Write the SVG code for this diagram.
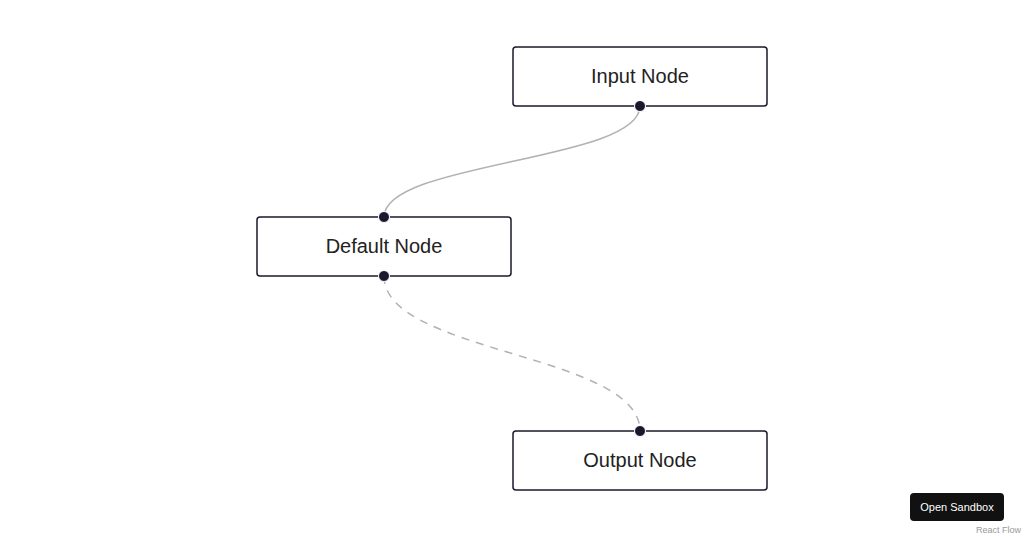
<svg xmlns="http://www.w3.org/2000/svg" width="1024" height="537" viewBox="0 0 1024 537">
<style>
.node rect{fill:#fff;stroke:#1a192b;stroke-width:1.5}
.node text{font-family:"Liberation Sans",Arial,sans-serif;font-size:20px;fill:#222;text-anchor:middle}
.handle{fill:#1a192b;stroke:#fff;stroke-width:1}
.edge{fill:none;stroke:#b1b1b7;stroke-width:1.5}
.dash{stroke-dasharray:8 7}
</style>
<rect width="1024" height="537" fill="#fff"/>
<g id="connectors">
<path class="edge" d="M640,106 C640,161.5 384,161.5 384,217"/>
<path class="edge dash" d="M384,276 C384,353.5 640,353.5 640,431"/>
</g>
<g id="input-node" class="node">
<rect x="513" y="47" width="254" height="59" rx="3"/>
<text x="640" y="83">Input Node</text>
<circle class="handle" cx="640" cy="106" r="5.5"/>
</g>
<g id="default-node" class="node">
<rect x="257" y="217" width="254" height="59" rx="3"/>
<text x="384" y="253">Default Node</text>
<circle class="handle" cx="384" cy="217" r="5.5"/>
<circle class="handle" cx="384" cy="276" r="5.5"/>
</g>
<g id="output-node" class="node">
<rect x="513" y="431" width="254" height="59" rx="3"/>
<text x="640" y="467">Output Node</text>
<circle class="handle" cx="640" cy="431" r="5.5"/>
</g>
<g id="open-sandbox">
<rect x="910" y="493" width="94" height="28" rx="4" fill="#111"/>
<text x="957" y="511" font-family="Liberation Sans,Arial,sans-serif" font-size="11" fill="#fff" text-anchor="middle">Open Sandbox</text>
</g>
<text x="1021" y="533" font-family="Liberation Sans,Arial,sans-serif" font-size="9" fill="#999" text-anchor="end">React Flow</text>
</svg>
